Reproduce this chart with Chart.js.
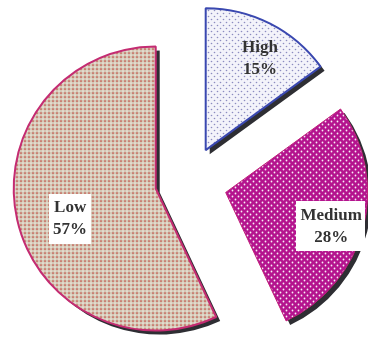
<!DOCTYPE html>
<html>
<head>
<meta charset="utf-8">
<script src="https://cdn.jsdelivr.net/npm/chart.js@4"></script>
<style>
  html, body { margin: 0; padding: 0; background: #fff; overflow: hidden; }
  #wrap { width: 368px; height: 337px; }
</style>
</head>
<body>
<div id="wrap"><canvas id="pie" width="368" height="337"></canvas></div>
<script>
'use strict';

// ── データ ──
const labels = ['High', 'Medium', 'Low'];
const shares = [15, 28, 57];

const $ = id => document.getElementById(id);

// ── ドットパターン ──
function dotPattern(bg, dots, size) {
  const c = document.createElement('canvas');
  c.width = c.height = size;
  const g = c.getContext('2d');
  g.fillStyle = bg;
  g.fillRect(0, 0, size, size);
  dots.forEach(([x, y, r, col]) => {
    g.fillStyle = col;
    g.beginPath();
    g.arc(x, y, r, 0, Math.PI * 2);
    g.fill();
  });
  return g.createPattern(c, 'repeat');
}

const fills = [
  dotPattern('#f3f3fa', [[1.5, 1.5, 0.8, '#8c8cc0'], [4.5, 4.5, 0.8, '#8c8cc0']], 6),
  dotPattern('#b4148e', [[1.5, 1.5, 0.9, '#f8eef6'], [4.5, 4.5, 0.9, '#f8eef6']], 6),
  dotPattern('#d4c8b6', [[1, 1, 0.85, '#c24840'], [3, 3, 0.85, '#f0ebe2']], 4),
];

// ── 切り離し（各扇形を中心から外へずらす）──
const explode = {
  id: 'explode',
  afterDatasetUpdate(chart, args, opts) {
    args.meta.data.forEach((arc, i) => {
      const [d, turn] = opts.dist[i];
      const mid = (arc.startAngle + arc.endAngle) / 2 + turn * Math.PI / 180;
      arc.x += Math.cos(mid) * d;
      arc.y += Math.sin(mid) * d;
    });
  }
};

// ── 影（塗りのみ、枠線には付けない）──
const dropShadow = {
  id: 'dropShadow',
  beforeDatasetDraw(chart, args, opts) {
    const ctx = chart.ctx;
    ctx.save();
    ctx.shadowColor = opts.color;
    ctx.shadowOffsetX = opts.dx;
    ctx.shadowOffsetY = opts.dy;
    ctx.shadowBlur = opts.blur;
    const stroke = CanvasRenderingContext2D.prototype.stroke;
    ctx.stroke = function () {
      this.save();
      this.shadowColor = 'transparent';
      stroke.apply(this, arguments);
      this.restore();
    };
  },
  afterDatasetDraw(chart) {
    delete chart.ctx.stroke;
    chart.ctx.restore();
  }
};

// ── ラベル ──
const sliceLabels = {
  id: 'sliceLabels',
  afterDatasetsDraw(chart, args, opts) {
    const ctx = chart.ctx;
    const meta = chart.getDatasetMeta(0);
    const ds = chart.data.datasets[0];
    ctx.save();
    ctx.font = opts.font;
    ctx.textAlign = 'center';
    ctx.textBaseline = 'middle';
    meta.data.forEach((arc, i) => {
      const [frac, nudge] = opts.place[i];
      const a = (arc.startAngle + arc.endAngle) / 2 + nudge * Math.PI / 180;
      const r = arc.outerRadius * frac;
      const x = arc.x + Math.cos(a) * r;
      const y = arc.y + Math.sin(a) * r;
      const lines = [chart.data.labels[i], ds.data[i] + '%'];
      const lh = opts.lineHeight;
      if (opts.boxed[i]) {
        const w = Math.max(...lines.map(t => ctx.measureText(t).width)) + opts.padX * 2;
        const h = lh * lines.length + opts.padY * 2;
        ctx.fillStyle = '#fff';
        ctx.fillRect(Math.round(x - w / 2), Math.round(y - h / 2), Math.round(w), Math.round(h));
      }
      ctx.fillStyle = opts.color;
      lines.forEach((t, k) => ctx.fillText(t, x, y + (k - (lines.length - 1) / 2) * lh));
    });
    ctx.restore();
  }
};

new Chart($('pie'), {
  type: 'pie',
  data: {
    labels: labels,
    datasets: [{
      data: shares,
      backgroundColor: fills,
      borderColor: ['#3a48b0', '#c0207a', '#c42c72'],
      borderWidth: [2, 1, 2],
      radius: 142,
      clip: false,
    }],
  },
  options: {
    responsive: false,
    animation: false,
    events: [],
    layout: { padding: { left: 2, top: 27 } },
    plugins: {
      legend: { display: false },
      tooltip: { enabled: false },
      explode: { dist: [[38, 6], [42, 0], [30, 0]] },
      dropShadow: { color: 'rgba(35,35,40,0.95)', dx: 4, dy: 4, blur: 1 },
      sliceLabels: {
        font: 'bold 17px "Liberation Serif", "Times New Roman", serif',
        color: '#333',
        lineHeight: 22,
        padX: 4,
        padY: 3,
        boxed: [false, true, true],
        place: [[0.75, 3.7], [0.78, 3.4], [0.64, -7]],
      },
    },
  },
  plugins: [explode, dropShadow, sliceLabels],
});
</script>
</body>
</html>
